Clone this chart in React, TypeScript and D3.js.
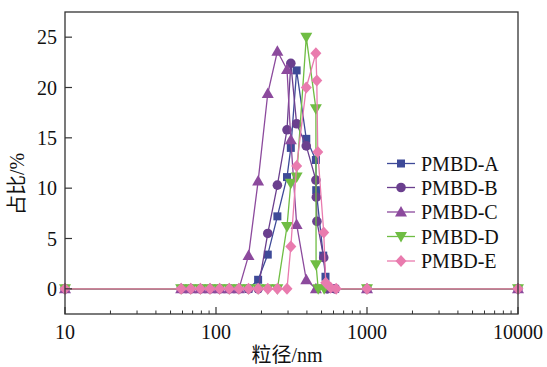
import React from "react";
import * as d3 from "d3";

const zeroBins = [10, 58.77, 68.06, 78.82, 91.28, 105.7, 122.4, 141.8];

const sizesA = [...zeroBins, 164.2, 190.1, 220.2, 255.0, 295.3, 313, 342.0, 396.1, 458.7, 461, 513, 531, 575, 615, 1000, 10000];
const valuesA = [0, 0, 0, 0, 0, 0, 0, 0, 0, 0.9, 3.4, 7.2, 11.1, 14.0, 21.7, 14.9, 12.8, 9.8, 3.3, 1.2, 0, 0, 0, 0];

const sizesB = [...zeroBins, 164.2, 190.1, 220.2, 255.0, 295.3, 313, 342.0, 396.1, 458.7, 462, 466, 517, 545, 615, 1000, 10000];
const valuesB = [0, 0, 0, 0, 0, 0, 0, 0, 0, 0, 5.5, 10.3, 15.8, 22.4, 16.4, 14.2, 10.8, 9.1, 6.7, 3.1, 0, 0, 0, 0];

const sizesC = [...zeroBins, 164.2, 190.1, 220.2, 255.0, 295.3, 313, 342.0, 396.1, 458.7, 1000, 10000];
const valuesC = [0, 0, 0, 0, 0, 0, 0, 0, 3.3, 10.7, 19.4, 23.6, 21.8, 14.8, 6.4, 0.9, 0, 0, 0];

const sizesD = [...zeroBins, 164.2, 190.1, 220.2, 255.0, 295.3, 313, 342.0, 396.1, 458.7, 460, 475, 520, 1000, 10000];
const valuesD = [0, 0, 0, 0, 0, 0, 0, 0, 0, 0, 0, 0, 6.2, 10.5, 11.1, 25.0, 17.9, 2.4, 0, 0, 0, 0];

const sizesE = [...zeroBins, 164.2, 190.1, 220.2, 255.0, 295.3, 313, 342.0, 396.1, 458.7, 465, 472, 517, 533, 575, 625, 1000, 10000];
const valuesE = [0, 0, 0, 0, 0, 0, 0, 0, 0, 0, 0, 0, 0, 4.2, 12.2, 20.0, 23.4, 20.7, 13.6, 5.6, 0.6, 0.1, 0, 0, 0];

const seriesNames = ["PMBD-A", "PMBD-B", "PMBD-C", "PMBD-D", "PMBD-E"];
const seriesColors = ["#3e4a98", "#6a3f8e", "#8c4a9d", "#6fbd43", "#e97bae"];
const seriesMarkers = ["square", "circle", "triangle", "triangleDown", "diamond"];
const seriesSizes = [sizesA, sizesB, sizesC, sizesD, sizesE];
const seriesValues = [valuesA, valuesB, valuesC, valuesD, valuesE];

const xTicks = [10, 100, 1000, 10000];
const yTicks = [0, 5, 10, 15, 20, 25];

const W = 547;
const H = 367;
const left = 65;
const right = 518;
const top = 12;
const bottom = 314;

const FONT = "'Times New Roman', 'Liberation Serif', 'Noto Sans CJK SC', serif";

function Marker({ type, x, y, color }: { type: string; x: number; y: number; color: string }) {
  if (type === "square") {
    return <rect x={x - 4} y={y - 4} width={8} height={8} fill={color} />;
  }
  if (type === "circle") {
    return <circle cx={x} cy={y} r={4.8} fill={color} />;
  }
  if (type === "triangle") {
    return <path d={`M${x},${y - 6} L${x + 6},${y + 4.5} L${x - 6},${y + 4.5} Z`} fill={color} />;
  }
  if (type === "triangleDown") {
    return <path d={`M${x},${y + 6} L${x + 6},${y - 4.5} L${x - 6},${y - 4.5} Z`} fill={color} />;
  }
  return <path d={`M${x},${y - 6} L${x + 5.5},${y} L${x},${y + 6} L${x - 5.5},${y} Z`} fill={color} />;
}

export default function App() {
  const x = d3.scaleLog().domain([10, 10000]).range([left, right]);
  const y = d3.scaleLinear().domain([-2.5, 27.5]).range([bottom, top]);

  const minorTicks: number[] = [];
  for (let dec = 10; dec < 10000; dec *= 10) {
    for (let k = 2; k <= 9; k++) minorTicks.push(dec * k);
  }

  const line = d3
    .line<[number, number]>()
    .x((d) => x(d[0]))
    .y((d) => y(d[1]));

  const legendY = [163.5, 187.5, 212, 236.5, 261];

  return (
    <svg width={W} height={H} style={{ position: "absolute", left: 0, top: 0, background: "#fff" }}>
      {/* series */}
      {seriesNames.map((name, i) => {
        const pts: [number, number][] = seriesSizes[i].map((s, j) => [s, seriesValues[i][j]]);
        return (
          <g key={name}>
            <path d={line(pts) || ""} fill="none" stroke={seriesColors[i]} strokeWidth={1.3} />
            {pts.map((p, j) => (
              <Marker key={j} type={seriesMarkers[i]} x={x(p[0])} y={y(p[1])} color={seriesColors[i]} />
            ))}
          </g>
        );
      })}

      {/* frame */}
      <rect x={left} y={top} width={right - left} height={bottom - top} fill="none" stroke="#333" strokeWidth={1.3} />

      {/* y ticks */}
      {yTicks.map((t) => (
        <g key={t}>
          <line x1={left} x2={left + 7} y1={y(t)} y2={y(t)} stroke="#333" strokeWidth={1.2} />
          <text x={57} y={y(t) + 7} textAnchor="end" fontFamily={FONT} fontSize={20} fill="#111">
            {t}
          </text>
        </g>
      ))}

      {/* x ticks */}
      {xTicks.map((t) => (
        <g key={t}>
          <line x1={x(t)} x2={x(t)} y1={bottom} y2={bottom - 7} stroke="#333" strokeWidth={1.2} />
          <text x={x(t)} y={339} textAnchor="middle" fontFamily={FONT} fontSize={20} fill="#111">
            {t}
          </text>
        </g>
      ))}
      {minorTicks.map((t) => (
        <line key={t} x1={x(t)} x2={x(t)} y1={bottom} y2={bottom - 3.5} stroke="#333" strokeWidth={1} />
      ))}

      {/* axis titles */}
      <text x={287} y={362} textAnchor="middle" fontFamily={FONT} fontSize={20} fill="#111">
        粒径/nm
      </text>
      <text
        transform={`translate(24, 184) rotate(-90)`}
        textAnchor="middle"
        fontFamily={FONT}
        fontSize={20}
        fill="#111"
      >
        占比/%
      </text>

      {/* legend */}
      {seriesNames.map((name, i) => (
        <g key={name}>
          <line x1={387} x2={415} y1={legendY[i]} y2={legendY[i]} stroke={seriesColors[i]} strokeWidth={1.3} />
          <Marker type={seriesMarkers[i]} x={401} y={legendY[i]} color={seriesColors[i]} />
          <text x={421} y={legendY[i] + 7} fontFamily={FONT} fontSize={20} fill="#111">
            {name}
          </text>
        </g>
      ))}
    </svg>
  );
}
